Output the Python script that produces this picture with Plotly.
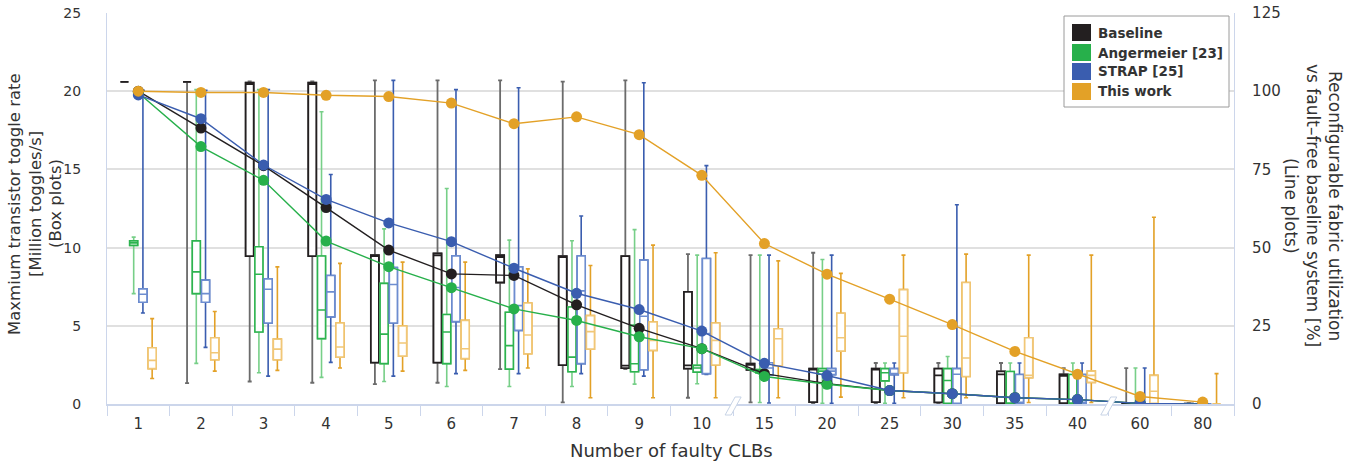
import plotly.graph_objects as go

categories = ["1", "2", "3", "4", "5", "6", "7", "8", "9", "10",
              "15", "20", "25", "30", "35", "40", "60", "80"]

# ---- Box plot statistics (Million toggles/s) ----
baseline_low = [20.6, 1.33, 1.44, 1.36, 1.27, 1.36, 2.23, 0.1, 2.23, 0.4, 0.1, 0.05, 0.05, 0.05, 0.05, 0.05, 0.0, 0.0]
baseline_q1 = [20.6, 20.6, 9.46, 9.46, 2.64, 2.64, 7.77, 2.49, 2.3, 2.26, 2.19, 0.12, 0.12, 0.1, 0.05, 0.05, 0.0, 0.0]
baseline_med = [20.6, 20.6, 20.45, 20.45, 9.45, 9.5, 9.4, 9.4, 2.45, 2.47, 2.5, 2.2, 2.2, 1.83, 1.9, 1.8, 0.02, 0.0]
baseline_q3 = [20.6, 20.6, 20.55, 20.55, 9.52, 9.63, 9.52, 9.46, 9.46, 7.17, 2.58, 2.26, 2.26, 2.26, 2.08, 1.89, 0.05, 0.02]
baseline_high = [20.6, 20.6, 20.63, 20.63, 20.69, 20.69, 20.69, 20.61, 20.69, 9.58, 9.52, 9.67, 2.62, 2.62, 2.62, 2.3, 2.3, 0.05]

anger_low = [7.06, 2.6, 2.0, 1.7, 1.44, 1.12, 1.12, 1.12, 1.27, 1.29, 0.1, 0.05, 0.05, 0.05, 0.0, 0.0, 0.0, 0.0]
anger_q1 = [10.14, 7.06, 4.6, 4.18, 2.58, 2.58, 2.23, 2.06, 2.06, 2.04, 2.0, 1.9, 1.48, 0.05, 0.0, 0.0, 0.0, 0.0]
anger_med = [10.3, 8.45, 8.3, 6.01, 4.47, 4.6, 3.73, 3.0, 2.57, 2.3, 2.1, 2.1, 2.0, 1.5, 0.05, 0.05, 0.0, 0.0]
anger_q3 = [10.43, 10.43, 10.05, 9.46, 7.71, 5.72, 5.87, 6.2, 5.03, 2.47, 2.2, 2.26, 2.26, 2.26, 2.08, 1.89, 0.02, 0.0]
anger_high = [10.67, 20.1, 20.1, 18.69, 11.2, 13.78, 10.48, 10.44, 11.15, 9.52, 9.52, 9.24, 2.62, 3.04, 2.62, 2.62, 2.3, 0.0]

strap_low = [5.82, 3.62, 1.78, 2.66, 1.78, 1.94, 1.94, 1.94, 1.78, 1.89, 0.06, 0.05, 0.05, 0.05, 0.05, 0.05, 0.0, 0.0]
strap_q1 = [6.51, 6.51, 5.18, 5.57, 5.18, 5.27, 4.71, 2.58, 2.19, 1.94, 1.85, 1.88, 1.88, 0.05, 0.05, 0.05, 0.0, 0.0]
strap_med = [7.02, 7.06, 7.34, 7.17, 7.64, 7.45, 6.29, 7.23, 5.61, 4.5, 2.3, 2.1, 1.95, 1.9, 0.1, 0.1, 0.0, 0.0]
strap_q3 = [7.36, 7.92, 8.0, 8.22, 8.73, 9.47, 8.77, 9.46, 9.2, 9.3, 2.64, 2.26, 2.26, 2.26, 1.89, 1.89, 0.02, 0.0]
strap_high = [20.05, 20.05, 20.1, 14.67, 20.69, 20.1, 20.22, 12.02, 20.54, 15.24, 9.52, 9.52, 2.62, 12.74, 2.62, 2.62, 2.3, 0.0]

work_low = [1.63, 2.1, 2.15, 2.3, 2.1, 2.15, 2.3, 0.4, 0.4, 0.4, 0.4, 0.44, 0.4, 0.4, 0.1, 0.1, 0.05, 0.0]
work_q1 = [2.26, 2.83, 2.83, 3.0, 3.06, 2.9, 3.21, 3.51, 3.43, 2.49, 2.45, 3.38, 2.0, 1.76, 1.68, 1.38, 0.05, 0.0]
work_med = [2.79, 3.28, 3.51, 3.64, 3.9, 3.53, 4.41, 4.63, 4.07, 4.07, 4.17, 4.24, 4.33, 2.94, 1.83, 1.83, 0.82, 0.0]
work_q3 = [3.6, 4.24, 4.15, 5.18, 4.99, 5.35, 6.46, 5.65, 5.24, 5.18, 4.81, 5.8, 7.31, 7.77, 4.24, 2.1, 1.83, 0.0]
work_high = [5.46, 5.91, 8.77, 8.99, 9.07, 9.07, 8.64, 8.86, 10.16, 9.67, 9.15, 8.35, 9.52, 9.58, 9.52, 9.52, 11.94, 1.94]

# ---- Line plots (% utilization vs fault-free baseline) ----
baseline_util = [100, 88.2, 76.2, 62.8, 49.2, 41.6, 41.1, 31.7, 24.2, 17.7, 9.7, 6.5, 4.3, 3.3, 2.0, 1.4, 0.2, 0.0]
anger_util = [99.5, 82.3, 71.5, 52.1, 43.9, 37.2, 30.4, 26.7, 21.5, 17.7, 8.8, 6.3, 4.3, 3.3, 2.0, 1.4, 0.2, 0.0]
strap_util = [98.8, 91.2, 76.4, 65.4, 57.9, 51.9, 43.4, 35.4, 30.2, 23.3, 13.0, 9.1, 4.3, 3.3, 2.0, 1.4, 0.2, 0.0]
work_util = [100, 99.6, 99.6, 98.7, 98.3, 96.2, 89.6, 91.8, 86.1, 73.1, 51.3, 41.5, 33.5, 25.4, 16.8, 9.5, 2.4, 0.6]

series_names = ["Baseline", "Angermeier [23]", "STRAP [25]", "This work"]
main_colors = ["#231f20", "#27b04b", "#3a5daf", "#e3a127"]
whisker_colors = ["#6b6b6b", "#77cf88", "#3a5daf", "#e3a127"]
box_colors = ["#231f20", "#2db34f", "#6d8dd0", "#f1c777"]
box_widths = [1.8, 1.6, 1.6, 1.6]

left_title_lines = ["Maxmium transistor toggle rate", "[Million toggles/s]", "(Box plots)"]
right_title_lines = ["Reconfigurable fabric utilization",
                     "vs fault\u2013free baseline system [%]", "(Line plots)"]

box_stats = [
    (baseline_low, baseline_q1, baseline_med, baseline_q3, baseline_high),
    (anger_low, anger_q1, anger_med, anger_q3, anger_high),
    (strap_low, strap_q1, strap_med, strap_q3, strap_high),
    (work_low, work_q1, work_med, work_q3, work_high),
]
utils = [baseline_util, anger_util, strap_util, work_util]

FONT = "DejaVu Sans"
TXT = "#333333"
fig = go.Figure()

for i, name in enumerate(series_names):
    lo, q1, md, q3, hi = box_stats[i]
    # whiskers (and hidden box)
    fig.add_trace(go.Box(
        x=categories, q1=q1, median=md, q3=q3, lowerfence=lo, upperfence=hi,
        name=name, offsetgroup=name, alignmentgroup="g",
        line=dict(color=whisker_colors[i], width=box_widths[i]),
        fillcolor="white", whiskerwidth=0.5, boxpoints=False,
        showlegend=False, hoverinfo="skip"))
    # box outline on top
    fig.add_trace(go.Box(
        x=categories, q1=q1, median=md, q3=q3, lowerfence=q1, upperfence=q3,
        name=name, offsetgroup=name, alignmentgroup="g",
        line=dict(color=box_colors[i], width=box_widths[i]),
        fillcolor="white", whiskerwidth=0, boxpoints=False,
        showlegend=False, hoverinfo="skip"))

for i, name in enumerate(series_names):
    fig.add_trace(go.Scatter(
        x=categories, y=utils[i], yaxis="y2", mode="lines+markers", name=name,
        line=dict(color=main_colors[i], width=1.4),
        marker=dict(size=11, color=main_colors[i]),
        showlegend=False))

# ---- geometry (page pixels; page body margin removed by post_script) ----
PLOT_L, PLOT_R, PLOT_T, PLOT_B = 107, 1234, 13, 404
W, H = 1351, 464
PW, PH = PLOT_R - PLOT_L, PLOT_B - PLOT_T
M_L, M_T = PLOT_L, PLOT_T
M_R, M_B = W - PLOT_R, H - PLOT_B


def px(x):
    return (x - PLOT_L) / PW


def py(y):
    return (PLOT_B - y) / PH


shapes = []
annotations = []

# legend
shapes.append(dict(type="rect", xref="paper", yref="paper",
                   x0=px(1064), x1=px(1229), y0=py(107), y1=py(16),
                   line=dict(color="#9a9a9a", width=1), fillcolor="white", layer="above"))
row_tops = [24, 44, 63, 83]
for i, name in enumerate(series_names):
    t = row_tops[i]
    shapes.append(dict(type="rect", xref="paper", yref="paper",
                       x0=px(1072), x1=px(1091), y0=py(t + 17), y1=py(t),
                       line=dict(width=0), fillcolor=main_colors[i], layer="above"))
    annotations.append(dict(xref="paper", yref="paper", x=px(1096), y=py(t + 8.5),
                            xanchor="left", yanchor="middle", showarrow=False,
                            text="<b>%s</b>" % name,
                            font=dict(family=FONT, size=13.5, color=TXT)))

# axis breaks
n_cat = len(categories)
for boundary in [9.5, 15.5]:
    cx = PLOT_L + (boundary + 0.5) / n_cat * PW
    path = "M %f %f L %f %f L %f %f L %f %f Z" % (
        px(cx - 8), py(415), px(cx - 2), py(415), px(cx + 8), py(397), px(cx + 2), py(397))
    shapes.append(dict(type="path", xref="paper", yref="paper", path=path,
                       line=dict(color="#c8d4e6", width=1), fillcolor="white", layer="above"))

# titles (one annotation per line for tight line spacing)
for text, xc in zip(left_title_lines, [14, 35, 55]):
    annotations.append(dict(xref="paper", yref="paper", x=px(xc), y=py(204), textangle=-90,
                            xanchor="center", yanchor="middle", showarrow=False,
                            text=text, font=dict(family=FONT, size=16.5, color=TXT)))
for text, xc in zip(right_title_lines, [1335, 1313, 1291]):
    annotations.append(dict(xref="paper", yref="paper", x=px(xc), y=py(206), textangle=90,
                            xanchor="center", yanchor="middle", showarrow=False,
                            text=text, font=dict(family=FONT, size=17, color=TXT)))
annotations.append(dict(xref="paper", yref="paper", x=px(671), y=py(450),
                        xanchor="center", yanchor="middle", showarrow=False,
                        text="Number of faulty CLBs",
                        font=dict(family=FONT, size=18, color=TXT)))

fig.update_layout(
    width=W, height=H,
    margin=dict(l=M_L, r=M_R, t=M_T, b=M_B, pad=0, autoexpand=False),
    paper_bgcolor="white", plot_bgcolor="white",
    boxmode="group", boxgap=0.41, boxgroupgap=0.13,
    showlegend=False,
    font=dict(family=FONT, size=15, color=TXT),
    xaxis=dict(type="category", categoryorder="array", categoryarray=categories,
               range=[-0.5, n_cat - 0.5], tickson="boundaries", ticks="outside",
               ticklen=10, tickcolor="#ccd6eb", tickwidth=1.2, automargin=False,
               ticklabelstandoff=5, ticklabeloverflow="allow",
               showline=True, linecolor="#ccd6eb", linewidth=1.5,
               showgrid=False, tickfont=dict(family=FONT, size=15, color=TXT)),
    yaxis=dict(range=[0, 25], tickvals=[0, 5, 10, 15, 20, 25], automargin=False,
               showgrid=True, gridcolor="#e0e0e0", gridwidth=1.5, zeroline=False,
               showline=True, linecolor="#ccd6eb", linewidth=1.2,
               ticks="outside", ticklen=22, tickcolor="rgba(0,0,0,0)",
               ticklabeloverflow="allow",
               tickfont=dict(family=FONT, size=14, color=TXT)),
    yaxis2=dict(range=[0, 125], tickvals=[0, 25, 50, 75, 100, 125], automargin=False,
                overlaying="y", side="right", showgrid=False, zeroline=False,
                showline=True, linecolor="#ccd6eb", linewidth=1.2,
                ticks="outside", ticklen=14, tickcolor="rgba(0,0,0,0)",
                ticklabeloverflow="allow",
                tickfont=dict(family=FONT, size=15, color=TXT)),
    shapes=shapes,
    annotations=annotations,
)

fig.write_html("out.html",
               config={"displayModeBar": False},
               post_script="document.body.style.margin='0';document.body.style.padding='0';")
